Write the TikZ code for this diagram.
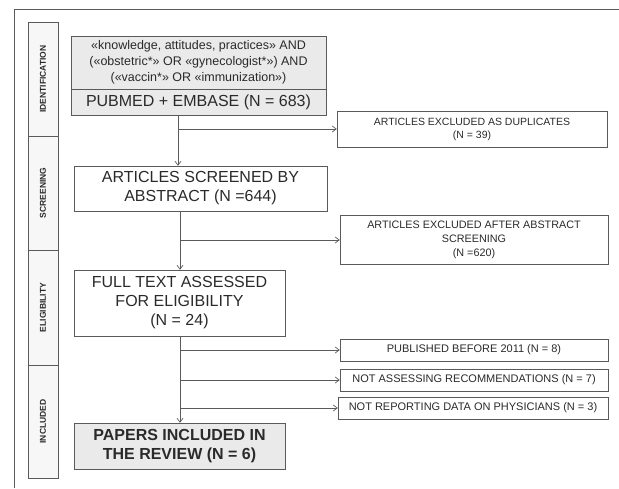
\documentclass[tikz,border=0pt]{standalone}
\usepackage{fontspec}
\setmainfont{Liberation Sans}
\usetikzlibrary{arrows.meta}
\definecolor{linegray}{HTML}{5A5A5A}
\definecolor{txtgray}{HTML}{2A2A2A}
\definecolor{boxfill}{HTML}{EAEAEA}
\begin{document}
\begin{tikzpicture}[x=1pt,y=-1pt]

    \tikzset{
      phase/.style={
        draw=linegray,
        fill=gray!6,
        rotate=90,
        minimum height=30pt,
        inner sep=0pt,
        text=txtgray,
        font=\fontsize{8.5}{10}\selectfont\bfseries,
      },
      mainbox/.style={
        draw=linegray,
        align=center,
        inner sep=0pt,
        text=txtgray,
        font=\fontsize{16}{19}\selectfont,
      },
      sidebox/.style={
        draw=linegray,
        align=center,
        inner sep=0pt,
        text=txtgray,
        font=\fontsize{11}{14}\selectfont,
      },
      flow/.style={
        color=linegray,
        line width=0.7pt,
        -{Straight Barb[length=4pt,width=6pt]},
      },
    }
    \useasboundingbox (0,0) rectangle (619,488);

	% outer frame
	\draw[color=linegray,line width=1pt] (14,488)--(14,9)--(619,9);

	% phase column
	\node[phase,minimum width=114pt] (ident) at (43,79) {IDENTIFICATION};
	\node[phase,minimum width=114pt] (scr) at (43,193) {SCREENING};
	\node[phase,minimum width=115pt] (elg) at (43,307.5) {ELIGIBILITY};
	\node[phase,minimum width=113pt] (inc) at (43,421.5) {INCLUDED};

	% main column
	\node[mainbox,fill=boxfill,minimum width=255pt,minimum height=53pt,font=\fontsize{12.5}{16}\selectfont] (query) at (198.5,62.5) {«knowledge, attitudes, practices» AND\\(«obstetric*» OR «gynecologist*») AND\\(«vaccin*» OR «immunization»)};
	\node[mainbox,fill=boxfill,minimum width=255pt,minimum height=26pt] (pubmed) at (198.5,102.5) {PUBMED + EMBASE (N = 683)};
	\node[mainbox,minimum width=253pt,minimum height=45pt] (screen) at (200.5,188.5) {ARTICLES SCREENED BY\\ABSTRACT (N =644)};
	\node[mainbox,minimum width=211pt,minimum height=66pt] (elig) at (179.5,303) {FULL TEXT ASSESSED\\FOR ELIGIBILITY\\(N = 24)};
	\node[mainbox,fill=boxfill,minimum width=211pt,minimum height=46pt,font=\fontsize{16}{19}\selectfont\bfseries] (incl) at (179.5,446) {PAPERS INCLUDED IN\\THE REVIEW (N = 6)};

	% exclusions
	\node[sidebox,minimum width=270pt,minimum height=36pt,font=\fontsize{10.5}{13}\selectfont] (dup) at (472,129) {ARTICLES EXCLUDED AS DUPLICATES\\(N = 39)};
	\node[sidebox,minimum width=268pt,minimum height=49pt,font=\fontsize{10.8}{14}\selectfont] (excl) at (474,240) {ARTICLES EXCLUDED AFTER ABSTRACT\\SCREENING\\(N =620)};
	\node[sidebox,minimum width=268pt,minimum height=22pt] (pub11) at (474,350) {PUBLISHED BEFORE 2011 (N = 8)};
	\node[sidebox,minimum width=268pt,minimum height=22pt] (notrec) at (474,380) {NOT ASSESSING RECOMMENDATIONS (N = 7)};
	\node[sidebox,minimum width=270pt,minimum height=22pt] (notphys) at (473,408) {NOT REPORTING DATA ON PHYSICIANS (N = 3)};

	% trunk
	\coordinate (t1) at (178,0);
	\coordinate (t2) at (180,0);
	\draw[flow] (pubmed.south -| t1) -- (screen.north -| t1);
	\draw[flow] (t1 |- dup.west) -- (dup.west);
	\draw[flow] (screen.south -| t2) -- (elig.north -| t2);
	\draw[flow] (t2 |- excl.west) -- (excl.west);
	\draw[flow] (elig.south -| t2) -- (incl.north -| t2);
	\draw[flow] (t2 |- pub11.west) -- (pub11.west);
	\draw[flow] (t2 |- notrec.west) -- (notrec.west);
	\draw[flow] (t2 |- notphys.west) -- (notphys.west);

\end{tikzpicture}
\end{document}
